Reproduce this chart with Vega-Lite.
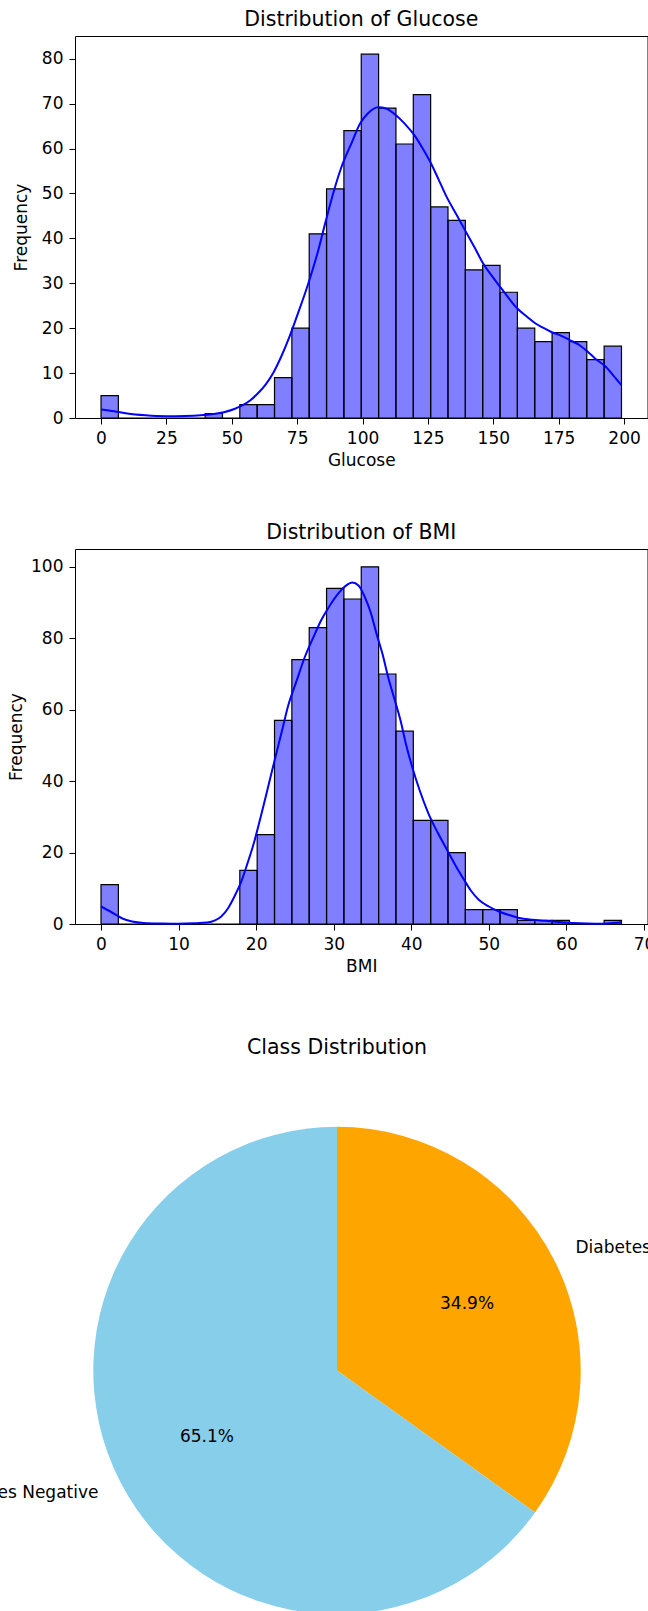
{
  "$schema": "https://vega.github.io/schema/vega-lite/v6.json",
  "autosize": {"type": "none"},
  "padding": {"left": 75, "top": 36, "right": 573, "bottom": 1575},
  "background": "white",
  "config": {
    "font": "DejaVu Sans",
    "view": {"stroke": "black", "strokeWidth": 1},
    "axis": {
      "grid": false, "domain": false,
      "tickColor": "black", "tickWidth": 1, "tickSize": 6,
      "labelPadding": 6, "labelFont": "DejaVu Sans", "labelFontSize": 17, "labelColor": "black",
      "labelFlush": false, "labelOverlap": false,
      "titleFont": "DejaVu Sans", "titleFontSize": 17, "titleFontWeight": "normal", "titleColor": "black"
    },
    "axisX": {"titlePadding": 6},
    "axisY": {"titlePadding": 7},
    "title": {"font": "DejaVu Sans", "fontSize": 20.5, "fontWeight": "normal", "color": "black", "baseline": "alphabetic", "offset": 6}
  },
  "datasets": {
    "glucoseHist": [
      {"bin_start": 0, "bin_end": 6.633, "count": 5},
      {"bin_start": 6.633, "bin_end": 13.267, "count": 0},
      {"bin_start": 13.267, "bin_end": 19.9, "count": 0},
      {"bin_start": 19.9, "bin_end": 26.533, "count": 0},
      {"bin_start": 26.533, "bin_end": 33.167, "count": 0},
      {"bin_start": 33.167, "bin_end": 39.8, "count": 0},
      {"bin_start": 39.8, "bin_end": 46.433, "count": 1},
      {"bin_start": 46.433, "bin_end": 53.067, "count": 0},
      {"bin_start": 53.067, "bin_end": 59.7, "count": 3},
      {"bin_start": 59.7, "bin_end": 66.333, "count": 3},
      {"bin_start": 66.333, "bin_end": 72.967, "count": 9},
      {"bin_start": 72.967, "bin_end": 79.6, "count": 20},
      {"bin_start": 79.6, "bin_end": 86.233, "count": 41},
      {"bin_start": 86.233, "bin_end": 92.867, "count": 51},
      {"bin_start": 92.867, "bin_end": 99.5, "count": 64},
      {"bin_start": 99.5, "bin_end": 106.133, "count": 81},
      {"bin_start": 106.133, "bin_end": 112.767, "count": 69},
      {"bin_start": 112.767, "bin_end": 119.4, "count": 61},
      {"bin_start": 119.4, "bin_end": 126.033, "count": 72},
      {"bin_start": 126.033, "bin_end": 132.667, "count": 47},
      {"bin_start": 132.667, "bin_end": 139.3, "count": 44},
      {"bin_start": 139.3, "bin_end": 145.933, "count": 33},
      {"bin_start": 145.933, "bin_end": 152.567, "count": 34},
      {"bin_start": 152.567, "bin_end": 159.2, "count": 28},
      {"bin_start": 159.2, "bin_end": 165.833, "count": 20},
      {"bin_start": 165.833, "bin_end": 172.467, "count": 17},
      {"bin_start": 172.467, "bin_end": 179.1, "count": 19},
      {"bin_start": 179.1, "bin_end": 185.733, "count": 17},
      {"bin_start": 185.733, "bin_end": 192.367, "count": 13},
      {"bin_start": 192.367, "bin_end": 199, "count": 16}
    ],
    "glucoseKde": [
      {"x": 0, "density": 1.9}, {"x": 5, "density": 1.5}, {"x": 10, "density": 1.0}, {"x": 17, "density": 0.6},
      {"x": 25, "density": 0.4}, {"x": 32, "density": 0.45}, {"x": 38, "density": 0.6}, {"x": 43, "density": 0.9},
      {"x": 47, "density": 1.3}, {"x": 51, "density": 2.0}, {"x": 54, "density": 2.8}, {"x": 57, "density": 3.9},
      {"x": 60, "density": 5.5}, {"x": 63, "density": 7.5}, {"x": 66, "density": 10.2}, {"x": 69, "density": 13.8},
      {"x": 72, "density": 18}, {"x": 75, "density": 22.8}, {"x": 79, "density": 29.5}, {"x": 83, "density": 37.2},
      {"x": 86, "density": 44}, {"x": 89, "density": 50.5}, {"x": 92, "density": 56}, {"x": 96, "density": 61.5},
      {"x": 99, "density": 65.5}, {"x": 102, "density": 67.8}, {"x": 106, "density": 69.2}, {"x": 109, "density": 68.9},
      {"x": 113, "density": 67.3}, {"x": 116, "density": 65.6}, {"x": 120, "density": 62.8}, {"x": 123, "density": 60},
      {"x": 126, "density": 56.9}, {"x": 129, "density": 53.2}, {"x": 132, "density": 49.4}, {"x": 136, "density": 45.2},
      {"x": 139, "density": 42}, {"x": 143, "density": 37.8}, {"x": 146, "density": 34.5}, {"x": 150, "density": 31.2},
      {"x": 153, "density": 28.9}, {"x": 156, "density": 26.6}, {"x": 159, "density": 24.5}, {"x": 163, "density": 22.5},
      {"x": 166, "density": 21.1}, {"x": 169, "density": 20.1}, {"x": 172, "density": 19.2}, {"x": 176, "density": 18.3},
      {"x": 179, "density": 17.4}, {"x": 183, "density": 16.2}, {"x": 186, "density": 14.8}, {"x": 189, "density": 13.2},
      {"x": 193, "density": 11.4}, {"x": 196, "density": 9.4}, {"x": 199, "density": 7.3}
    ],
    "bmiHist": [
      {"bin_start": 0, "bin_end": 2.237, "count": 11},
      {"bin_start": 2.237, "bin_end": 4.473, "count": 0},
      {"bin_start": 4.473, "bin_end": 6.71, "count": 0},
      {"bin_start": 6.71, "bin_end": 8.947, "count": 0},
      {"bin_start": 8.947, "bin_end": 11.183, "count": 0},
      {"bin_start": 11.183, "bin_end": 13.42, "count": 0},
      {"bin_start": 13.42, "bin_end": 15.657, "count": 0},
      {"bin_start": 15.657, "bin_end": 17.893, "count": 0},
      {"bin_start": 17.893, "bin_end": 20.13, "count": 15},
      {"bin_start": 20.13, "bin_end": 22.367, "count": 25},
      {"bin_start": 22.367, "bin_end": 24.603, "count": 57},
      {"bin_start": 24.603, "bin_end": 26.84, "count": 74},
      {"bin_start": 26.84, "bin_end": 29.077, "count": 83},
      {"bin_start": 29.077, "bin_end": 31.313, "count": 94},
      {"bin_start": 31.313, "bin_end": 33.55, "count": 91},
      {"bin_start": 33.55, "bin_end": 35.787, "count": 100},
      {"bin_start": 35.787, "bin_end": 38.023, "count": 70},
      {"bin_start": 38.023, "bin_end": 40.26, "count": 54},
      {"bin_start": 40.26, "bin_end": 42.497, "count": 29},
      {"bin_start": 42.497, "bin_end": 44.733, "count": 29},
      {"bin_start": 44.733, "bin_end": 46.97, "count": 20},
      {"bin_start": 46.97, "bin_end": 49.207, "count": 4},
      {"bin_start": 49.207, "bin_end": 51.443, "count": 4},
      {"bin_start": 51.443, "bin_end": 53.68, "count": 4},
      {"bin_start": 53.68, "bin_end": 55.917, "count": 1},
      {"bin_start": 55.917, "bin_end": 58.153, "count": 1},
      {"bin_start": 58.153, "bin_end": 60.39, "count": 1},
      {"bin_start": 60.39, "bin_end": 62.627, "count": 0},
      {"bin_start": 62.627, "bin_end": 64.863, "count": 0},
      {"bin_start": 64.863, "bin_end": 67.1, "count": 1}
    ],
    "bmiKde": [
      {"x": 0, "density": 4.9}, {"x": 1.2, "density": 3.5}, {"x": 2.9, "density": 1.4}, {"x": 4, "density": 0.7},
      {"x": 5.5, "density": 0.3}, {"x": 8, "density": 0.15}, {"x": 10, "density": 0.1}, {"x": 12, "density": 0.2},
      {"x": 13.7, "density": 0.4}, {"x": 14.7, "density": 1.0}, {"x": 15.5, "density": 2.1}, {"x": 16.4, "density": 4.5},
      {"x": 17.2, "density": 7.7}, {"x": 18.1, "density": 12}, {"x": 18.9, "density": 17.1}, {"x": 19.8, "density": 23.4},
      {"x": 20.6, "density": 30.1}, {"x": 21.5, "density": 38}, {"x": 22.4, "density": 46}, {"x": 23.3, "density": 53.8},
      {"x": 24.1, "density": 60.9}, {"x": 25.2, "density": 68}, {"x": 26.3, "density": 74.9}, {"x": 27.4, "density": 80.4},
      {"x": 28.4, "density": 85.1}, {"x": 29.5, "density": 89.2}, {"x": 30.6, "density": 92.6}, {"x": 31.5, "density": 94.6},
      {"x": 32.4, "density": 95.6}, {"x": 33.2, "density": 94.8}, {"x": 34, "density": 91.6}, {"x": 34.8, "density": 87},
      {"x": 35.5, "density": 81.4}, {"x": 36.3, "density": 75.5}, {"x": 37, "density": 69.3}, {"x": 37.8, "density": 63.2},
      {"x": 38.6, "density": 57.1}, {"x": 39.3, "density": 50.5}, {"x": 40.1, "density": 44.1}, {"x": 41.1, "density": 37.3},
      {"x": 42.2, "density": 31}, {"x": 43.4, "density": 25.6}, {"x": 44.6, "density": 20.8}, {"x": 45.7, "density": 16.4},
      {"x": 46.8, "density": 12.4}, {"x": 47.7, "density": 9.3}, {"x": 48.7, "density": 6.8}, {"x": 50, "density": 4.9},
      {"x": 51.3, "density": 3.5}, {"x": 52.6, "density": 2.5}, {"x": 53.9, "density": 1.7}, {"x": 55.6, "density": 1.2},
      {"x": 57.3, "density": 0.9}, {"x": 59, "density": 0.55}, {"x": 60.8, "density": 0.3}, {"x": 62.7, "density": 0.15},
      {"x": 64.7, "density": 0.1}, {"x": 66, "density": 0.25}, {"x": 67.1, "density": 0.5}
    ],
    "classes": [
      {"cls": "Diabetes Positive", "share": 0.349, "ord": 1},
      {"cls": "Diabetes Negative", "share": 0.651, "ord": 2}
    ]
  },
  "bounds": "flush",
  "spacing": 131,
  "vconcat": [
    {
      "title": "Distribution of Glucose",
      "width": 572.5,
      "height": 382,
      "layer": [
        {
          "data": {"name": "glucoseHist"},
          "mark": {"type": "bar", "fill": "#0000ff", "fillOpacity": 0.5, "stroke": "black", "strokeWidth": 1.2},
          "encoding": {
            "x": {"field": "bin_start", "type": "quantitative", "scale": {"domain": [-9.95, 208.95], "nice": false, "zero": false}, "axis": {"values": [0, 25, 50, 75, 100, 125, 150, 175, 200], "title": "Glucose"}},
            "x2": {"field": "bin_end"},
            "y": {"field": "count", "type": "quantitative", "scale": {"domain": [0, 85.05], "nice": false}, "axis": {"values": [0, 10, 20, 30, 40, 50, 60, 70, 80], "title": "Frequency", "titlePadding": 11}},
            "y2": {"datum": 0}
          }
        },
        {
          "data": {"name": "glucoseKde"},
          "mark": {"type": "line", "color": "#0000ff", "strokeWidth": 2, "interpolate": "monotone"},
          "encoding": {
            "x": {"field": "x", "type": "quantitative"},
            "y": {"field": "density", "type": "quantitative"}
          }
        }
      ]
    },
    {
      "title": "Distribution of BMI",
      "width": 572.5,
      "height": 375,
      "layer": [
        {
          "data": {"name": "bmiHist"},
          "mark": {"type": "bar", "fill": "#0000ff", "fillOpacity": 0.5, "stroke": "black", "strokeWidth": 1.2},
          "encoding": {
            "x": {"field": "bin_start", "type": "quantitative", "scale": {"domain": [-3.355, 70.455], "nice": false, "zero": false}, "axis": {"values": [0, 10, 20, 30, 40, 50, 60, 70], "title": "BMI"}},
            "x2": {"field": "bin_end"},
            "y": {"field": "count", "type": "quantitative", "scale": {"domain": [0, 105], "nice": false}, "axis": {"values": [0, 20, 40, 60, 80, 100], "title": "Frequency", "titlePadding": 5}},
            "y2": {"datum": 0}
          }
        },
        {
          "data": {"name": "bmiKde"},
          "mark": {"type": "line", "color": "#0000ff", "strokeWidth": 2, "interpolate": "monotone"},
          "encoding": {
            "x": {"field": "x", "type": "quantitative"},
            "y": {"field": "density", "type": "quantitative"}
          }
        }
      ]
    },
    {
      "title": {"text": "Class Distribution", "offset": -3.5},
      "width": 524,
      "height": 631,
      "view": {"stroke": null},
      "data": {"name": "classes"},
      "encoding": {
        "theta": {"field": "share", "type": "quantitative", "stack": true},
        "order": {"field": "ord", "type": "quantitative"}
      },
      "layer": [
        {
          "mark": {"type": "arc", "outerRadius": 243.7},
          "encoding": {
            "color": {"field": "cls", "type": "nominal", "scale": {"domain": ["Diabetes Positive", "Diabetes Negative"], "range": ["#FFA500", "#87CEEB"]}, "legend": null}
          }
        },
        {
          "mark": {"type": "text", "radius": 146.2, "fontSize": 17, "color": "black", "font": "DejaVu Sans"},
          "encoding": {"text": {"field": "share", "type": "quantitative", "format": ".1%"}}
        },
        {
          "mark": {"type": "text", "radius": 268.1, "fontSize": 17, "color": "black", "align": "left", "baseline": "middle", "font": "DejaVu Sans"},
          "encoding": {"text": {"condition": {"test": "datum.cls === 'Diabetes Positive'", "field": "cls", "type": "nominal"}, "value": ""}}
        },
        {
          "mark": {"type": "text", "radius": 268.1, "fontSize": 17, "color": "black", "align": "right", "baseline": "middle", "font": "DejaVu Sans"},
          "encoding": {"text": {"condition": {"test": "datum.cls === 'Diabetes Negative'", "field": "cls", "type": "nominal"}, "value": ""}}
        }
      ]
    }
  ]
}
